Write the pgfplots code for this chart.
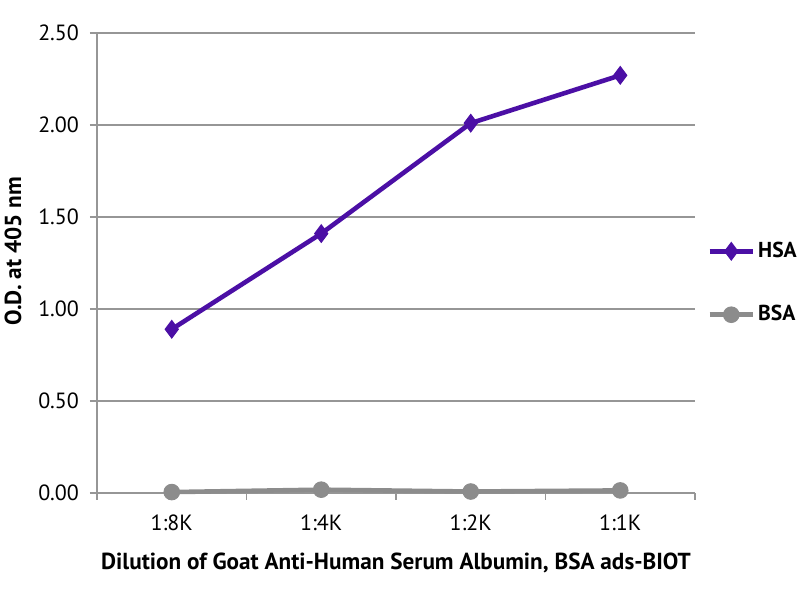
\documentclass[border=0pt]{standalone}
\usepackage{fontspec}
\setmainfont{PT Sans}
\usepackage{pgfplots}
\pgfplotsset{compat=1.18}
\definecolor{hsa}{RGB}{75,15,165}
\definecolor{bsa}{RGB}{140,140,140}
\definecolor{gridc}{RGB}{150,150,150}
\begin{document}
\begin{tikzpicture}
\useasboundingbox (0,0) rectangle (400pt,300pt);
\begin{axis}[
  at={(48.5pt,53.5pt)}, anchor=south west,
  scale only axis, width=299pt, height=230pt,
  xmin=-0.5, xmax=3.5, ymin=0, ymax=2.5,
  xtick={0,1,2,3}, xticklabels={1:8K,1:4K,1:2K,1:1K},
  minor xtick={-0.5,0.5,1.5,2.5,3.5},
  ytick={0,0.5,1,1.5,2,2.5},
  /pgf/number format/assume math mode=true,
  /pgf/number format/fixed,
  /pgf/number format/fixed zerofill,
  /pgf/number format/precision=2,
  tick label style={font=\fontsize{11}{13}\selectfont},
  xtick style={draw=none},
  minor x tick style={draw=gridc, line width=0.6pt},
  y tick style={draw=gridc, line width=0.6pt},
  tick align=outside, major tick length=3.5pt, minor tick length=3.5pt,
  xticklabel style={yshift=-4pt},
  yticklabel style={xshift=-2pt},
  axis x line*=bottom, axis y line*=left,
  axis line style={draw=gridc, line width=0.6pt, -},
  ymajorgrids, grid style={draw=gridc, line width=0.6pt},
  xlabel={\bfseries Dilution of Goat Anti-Human Serum Albumin, BSA ads-BIOT},
  ylabel={\bfseries O.D. at 405 nm},
  xlabel style={font=\fontsize{11.6}{13}\selectfont, at={(rel axis cs:0.5,0)}, anchor=center, yshift=-35pt},
  ylabel style={font=\fontsize{11.6}{13}\selectfont, at={(rel axis cs:0,0.525)}, anchor=center, yshift=42pt},
  legend style={draw=none, fill=none, at={(rel axis cs:1.02,0.555)}, anchor=north west,
    font=\fontsize{10.8}{12}\selectfont\bfseries, row sep=18.5pt, inner sep=0pt,
    nodes={inner xsep=1.5pt}},
  legend cell align=left,
  legend image code/.code={%
    \draw[#1, mark repeat=2, mark phase=2] plot coordinates {(0cm,0cm) (0.38cm,0cm) (0.76cm,0cm)};},
  clip=false,
]
\addplot[color=hsa, line width=2.3pt, mark=diamond*, mark size=4.4pt, mark options={solid, fill=hsa, line width=0.5pt}]
  coordinates {(0,0.89) (1,1.41) (2,2.01) (3,2.27)};
\addlegendentry{HSA}
\addplot[color=bsa, line width=2.3pt, mark=*, mark size=3.9pt, mark options={solid, fill=bsa, line width=0.5pt}]
  coordinates {(0,0.005) (1,0.018) (2,0.008) (3,0.014)};
\addlegendentry{BSA}
\end{axis}
\end{tikzpicture}
\end{document}
